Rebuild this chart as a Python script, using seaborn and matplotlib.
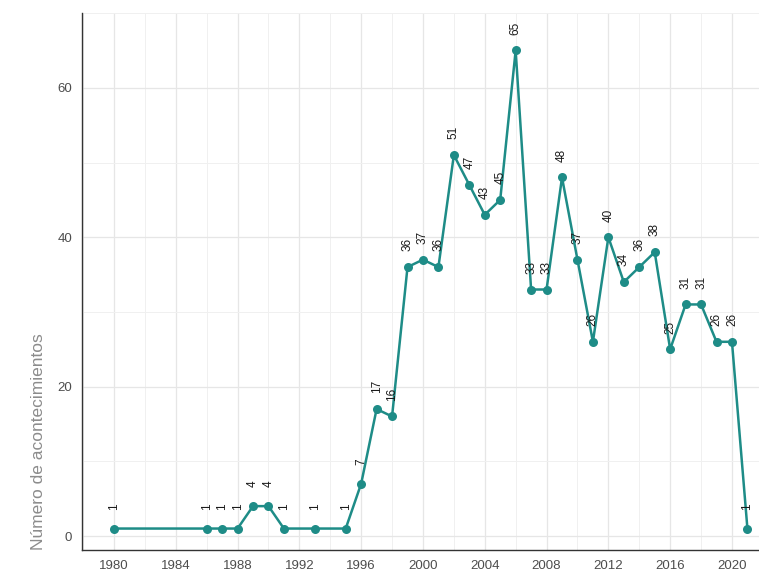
import pandas as pd
import seaborn as sns
import matplotlib.pyplot as plt
from matplotlib.ticker import MultipleLocator

years = [1980, 1986, 1987, 1988, 1989, 1990, 1991, 1993, 1995, 1996, 1997, 1998,
         1999, 2000, 2001, 2002, 2003, 2004, 2005, 2006, 2007, 2008, 2009, 2010,
         2011, 2012, 2013, 2014, 2015, 2016, 2017, 2018, 2019, 2020, 2021]
counts = [1, 1, 1, 1, 4, 4, 1, 1, 1, 7, 17, 16,
          36, 37, 36, 51, 47, 43, 45, 65, 33, 33, 48, 37,
          26, 40, 34, 36, 38, 25, 31, 31, 26, 26, 1]

df = pd.DataFrame({'anio': years, 'n': counts})

sns.set_style('whitegrid')
plt.rcParams['font.family'] = ['Liberation Sans', 'DejaVu Sans']

fig = plt.figure(figsize=(7.59, 5.73), dpi=100)
ax = fig.add_axes([0.108, 0.0401, 0.892, 0.937])

teal = '#1E8C87'
sns.lineplot(x='anio', y='n', data=df, ax=ax, color=teal, linewidth=1.8,
             marker='o', markersize=6.5, markeredgewidth=0, markerfacecolor=teal)

# etiquetas verticales sobre cada punto
for x, y in zip(df['anio'], df['n']):
    ax.annotate(str(y), (x, y), xytext=(0, 16), textcoords='offset points',
                rotation=90, ha='center', va='center', fontsize=8.5, color='#1a1a1a')

ax.set_xlim(1977.93, 2021.75)
ax.set_ylim(-1.875, 70.0)
ax.xaxis.set_major_locator(MultipleLocator(4))
ax.xaxis.set_minor_locator(MultipleLocator(2))
ax.yaxis.set_major_locator(MultipleLocator(20))
ax.yaxis.set_minor_locator(MultipleLocator(10))

ax.grid(which='major', color='#E6E6E6', linewidth=0.9)
ax.grid(which='minor', color='#F0F0F0', linewidth=0.7)
ax.set_axisbelow(True)

for s in ['top', 'right']:
    ax.spines[s].set_visible(False)
for s in ['left', 'bottom']:
    ax.spines[s].set_visible(True)
    ax.spines[s].set_color('#333333')
    ax.spines[s].set_linewidth(1.0)

ax.tick_params(axis='both', which='major', length=4, width=0.8, color='#333333',
               labelsize=9.5, labelcolor='#4D4D4D', pad=3)
ax.tick_params(axis='both', which='minor', length=0)

ax.set_xlabel('')
ax.set_ylabel('Número de acontecimientos', fontsize=12.5, color='#8C8C8C',
              loc='bottom', labelpad=8)

fig.savefig('out.png', dpi=100)
